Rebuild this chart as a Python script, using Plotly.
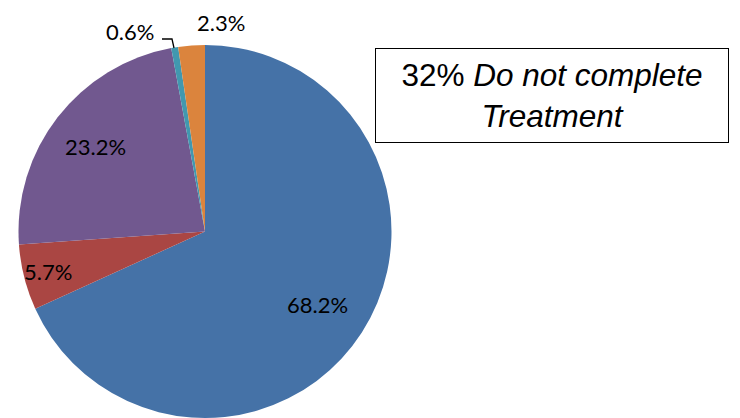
import math
import plotly.graph_objects as go

labels = ["A", "B", "C", "D", "E"]
values = [68.2, 5.7, 23.2, 0.6, 2.3]
text_labels = ["68.2%", "5.7%", "23.2%", "0.6%", "2.3%"]
colors = ["#4572A7", "#AA4643", "#71588F", "#4198AF", "#DB843D"]
box_text = "32% <i>Do not complete</i><br><i>Treatment</i>"

W, H = 740, 418
OFF = 8  # page body margin offset
# pie geometry in (screen) pixels
CX, CY, R = 205 - OFF, 231.5 - OFF, 186.5
# label placement: radial fraction for inside labels, fixed pixel spots for outside ones
inside_frac = {0: 0.72, 1: 0.87, 2: 0.74}
outside_pos = {3: (130 - OFF, 31 - OFF), 4: (221 - OFF, None)}

fig = go.Figure(go.Pie(
    labels=labels,
    values=values,
    textinfo="none",
    sort=False,
    direction="clockwise",
    rotation=0,
    marker=dict(colors=colors, line=dict(width=0)),
    showlegend=False,
    domain=dict(x=[(CX - R) / W, (CX + R) / W],
                y=[1 - (CY + R) / H, 1 - (CY - R) / H]),
    hoverinfo="skip",
))

total = sum(values)
cum = 0.0
for i, (v, t) in enumerate(zip(values, text_labels)):
    mid = (cum + v / 2) / total * 2 * math.pi
    cum += v
    yanchor = "middle"
    if i in inside_frac:
        f = inside_frac[i]
        px = CX + f * R * math.sin(mid)
        py = CY - f * R * math.cos(mid)
    else:
        px, py = outside_pos[i]
        if py is None:  # label hugging the top edge
            py, yanchor = 0, "top"
    fig.add_annotation(
        x=px / W, y=1 - py / H, xref="paper", yref="paper",
        xanchor="center", yanchor=yanchor, showarrow=False,
        text=t, font=dict(family="Lato", size=22, color="black"),
        borderpad=0,
    )

# leader line for the 0.6% label
lx = [162 - OFF, 172 - OFF, 174 - OFF]
ly = [39 - OFF, 39 - OFF, 48 - OFF]
path = "M " + " L ".join(f"{x / W},{1 - y / H}" for x, y in zip(lx, ly))
fig.add_shape(type="path", path=path, xref="paper", yref="paper",
              line=dict(color="black", width=1.3))

fig.add_annotation(
    x=(551.5 - OFF) / W, y=1 - (95.5 - OFF) / H, xref="paper", yref="paper",
    xanchor="center", yanchor="middle",
    text=box_text, showarrow=False,
    font=dict(family="Liberation Sans", size=31.5, color="black"),
    width=352, height=93, align="center",
    bordercolor="black", borderwidth=1, borderpad=0, bgcolor="white",
)

fig.update_layout(
    width=W, height=H,
    margin=dict(l=0, r=0, t=0, b=0),
    paper_bgcolor="white",
    plot_bgcolor="white",
)

fig.write_html("out.html")
